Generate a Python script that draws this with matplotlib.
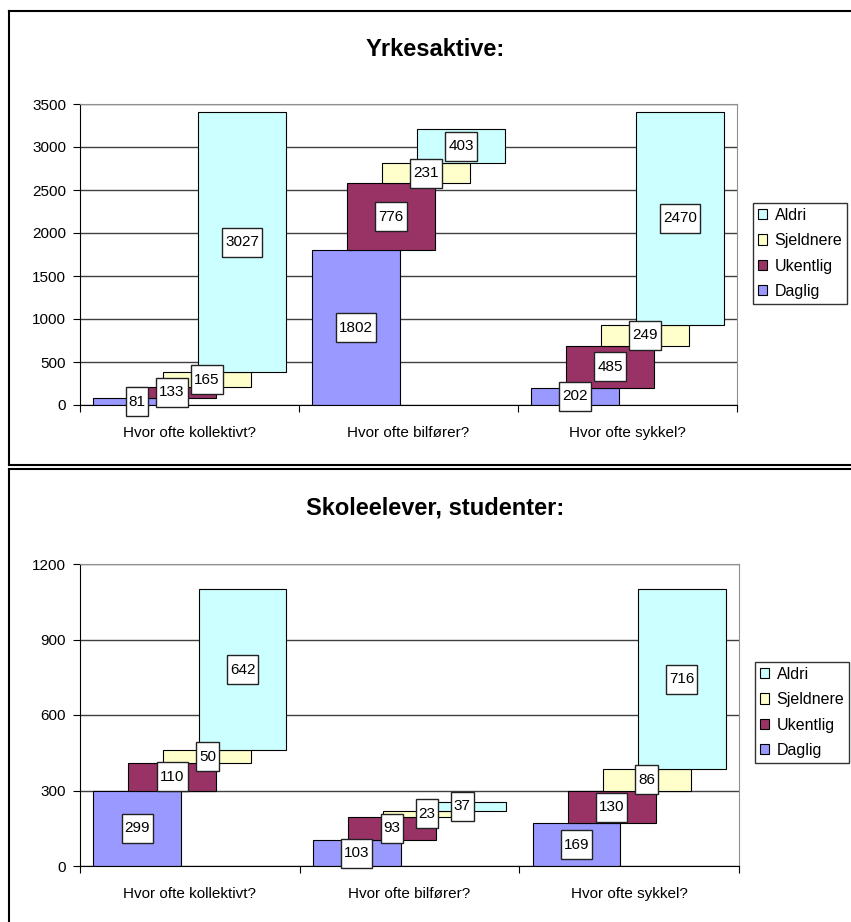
import numpy as np
import matplotlib
matplotlib.use('Agg')
import matplotlib.pyplot as plt
import matplotlib.transforms as mtransforms
from matplotlib.patches import Rectangle
from matplotlib.lines import Line2D

plt.rcParams['font.family'] = ['Liberation Sans', 'DejaVu Sans']

categories = ['Hvor ofte kollektivt?', 'Hvor ofte bilfører?', 'Hvor ofte sykkel?']
series_names = ['Daglig', 'Ukentlig', 'Sjeldnere', 'Aldri']
series_colors = ['#9999ff', '#993366', '#ffffcc', '#ccffff']

# Yrkesaktive
yrke_daglig = [81, 1802, 202]
yrke_ukentlig = [133, 776, 485]
yrke_sjeldnere = [165, 231, 249]
yrke_aldri = [3027, 403, 2470]

# Skoleelever, studenter
skole_daglig = [299, 103, 169]
skole_ukentlig = [110, 93, 130]
skole_sjeldnere = [50, 23, 86]
skole_aldri = [642, 37, 716]

W, H = 851, 922
fig = plt.figure(figsize=(W / 100, H / 100), dpi=100)


def fx(px):
    return px / W


def fy(py):
    return 1 - py / H


def draw_panel(rect, title, title_y, data, ymax, ystep, legend_xy):
    ax = fig.add_axes(rect)
    x = np.arange(len(categories))
    offsets = [-0.24, -0.08, 0.08, 0.24]
    width = 0.40
    bottom = np.zeros(len(categories))
    label_pos = []
    for i, vals in enumerate(data):
        vals = np.array(vals, dtype=float)
        ax.bar(x + offsets[i], vals, width, bottom=bottom, color=series_colors[i],
               edgecolor='black', linewidth=0.8, label=series_names[i], zorder=2)
        for j in range(len(x)):
            label_pos.append((x[j] + offsets[i], bottom[j] + vals[j] / 2, int(vals[j])))
        bottom = bottom + vals

    ax.set_xlim(-0.5, 2.5)
    ax.set_ylim(0, ymax)
    ax.set_yticks(np.arange(0, ymax + 1, ystep))
    ax.yaxis.grid(True, color='#404040', linewidth=1.0, zorder=0)
    ax.set_axisbelow(True)
    ax.set_xticks([-0.5, 0.5, 1.5, 2.5])
    ax.set_xticklabels([])
    ax.set_xticks(x, minor=True)
    ax.set_xticklabels(categories, minor=True)
    ax.tick_params(axis='x', which='major', length=5, direction='out', color='black')
    ax.tick_params(axis='x', which='minor', length=0, pad=15, labelsize=11)
    ax.tick_params(axis='y', length=5, direction='out', pad=5, labelsize=11, color='black')
    for s in ['top', 'right']:
        ax.spines[s].set_color('#909090')
    for s in ['left', 'bottom']:
        ax.spines[s].set_color('black')

    # value labels in white boxes
    for (lx, ly, v) in label_pos:
        n = len(str(v))
        bw = (n * 8.4 + 6) / 100.0
        bh = 29 / 100.0
        trans = fig.dpi_scale_trans + mtransforms.ScaledTranslation(lx, ly, ax.transData)
        ax.add_patch(Rectangle((-bw / 2, -bh / 2), bw, bh, transform=trans,
                               facecolor='white', edgecolor='#222222', linewidth=1.0,
                               zorder=5, clip_on=False))
        ax.text(lx, ly, str(v), ha='center', va='center', fontsize=11, zorder=6)

    handles, labels = ax.get_legend_handles_labels()
    fig.legend(handles[::-1], labels[::-1], loc='upper left',
               bbox_to_anchor=(fx(legend_xy[0]), fy(legend_xy[1])),
               frameon=True, fancybox=False, edgecolor='black', fontsize=11.5,
               handlelength=0.6, handleheight=0.6, handletextpad=0.45,
               labelspacing=0.65, borderpad=0.3, borderaxespad=0)

    fig.text(fx(435), fy(title_y), title, ha='center', va='center',
             fontsize=17, fontweight='bold')
    return ax


top_rect = [fx(80), fy(405), fx(737) - fx(80), fy(104) - fy(405)]
draw_panel(top_rect, 'Yrkesaktive:', 49,
           [yrke_daglig, yrke_ukentlig, yrke_sjeldnere, yrke_aldri],
           3500, 500, (753, 203))

bot_rect = [fx(80), fy(866), fx(739) - fx(80), fy(564) - fy(866)]
draw_panel(bot_rect, 'Skoleelever, studenter:', 508,
           [skole_daglig, skole_ukentlig, skole_sjeldnere, skole_aldri],
           1200, 300, (755, 662))

# chart borders
border = dict(color='black', linewidth=1.5, transform=fig.transFigure)
fig.add_artist(Line2D([fx(8.8), fx(8.8)], [fy(11), fy(465)], **border))
fig.add_artist(Line2D([fx(8.8), 1], [fy(11), fy(11)], **border))
fig.add_artist(Line2D([fx(8.8), 1], [fy(465), fy(465)], **border))
fig.add_artist(Line2D([fx(8.8), 1], [fy(469.5), fy(469.5)], **border))
fig.add_artist(Line2D([fx(8.8), fx(8.8)], [fy(469.5), 0], **border))

plt.savefig('out.png', dpi=100)
